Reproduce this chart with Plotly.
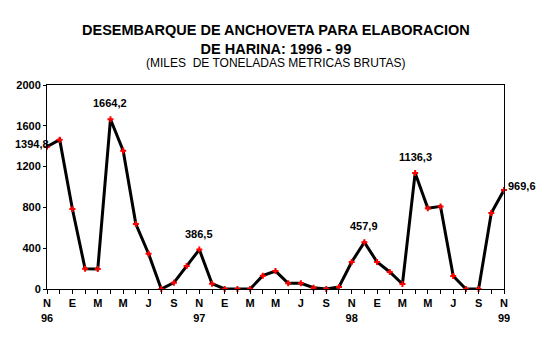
import plotly.graph_objects as go

months = ["Nov96","Dic96","Ene97","Feb97","Mar97","Abr97","May97","Jun97","Jul97","Ago97","Sep97","Oct97",
          "Nov97","Dic97","Ene98","Feb98","Mar98","Abr98","May98","Jun98","Jul98","Ago98","Sep98","Oct98",
          "Nov98","Dic98","Ene99","Feb99","Mar99","Abr99","May99","Jun99","Jul99","Ago99","Sep99","Oct99","Nov99"]
values = [1394.8, 1464, 784, 199, 196, 1664.2, 1356, 637, 346, 0, 62, 225,
          386.5, 52, 0, 0, 0, 131, 176, 56, 56, 13, 0, 20,
          265, 457.9, 265, 167, 49, 1136.3, 791, 810, 127, 0, 0, 745, 969.6]
tick_labels = ["N<br>96","","E","","M","","M","","J","","S","",
               "N<br>97","","E","","M","","M","","J","","S","",
               "N<br>98","","E","","M","","M","","J","","S","","N<br>99"]
y_ticks = [0, 400, 800, 1200, 1600, 2000]
labeled = {0: "1394,8", 5: "1664,2", 12: "386,5", 25: "457,9", 29: "1136,3", 36: "969,6"}
title_lines = ["DESEMBARQUE DE ANCHOVETA PARA ELABORACION", "DE HARINA: 1996 - 99"]
subtitle = "(MILES  DE TONELADAS METRICAS BRUTAS)"

xs = list(range(len(values)))

fig = go.Figure()
fig.add_trace(go.Scatter(
    x=xs, y=values, mode="lines+markers",
    line=dict(color="black", width=3),
    marker=dict(color="red", symbol="cross", size=5, line=dict(width=0)),
    cliponaxis=False, hoverinfo="skip"))

for i, txt in labeled.items():
    if i == 0:
        fig.add_annotation(x=xs[i], y=values[i], text=txt, showarrow=False,
                           xanchor="right", yanchor="bottom", xshift=4, yshift=-5)
    elif i == len(values) - 1:
        fig.add_annotation(x=xs[i], y=values[i], text=txt, showarrow=False,
                           xanchor="left", yanchor="bottom", xshift=2, yshift=-4)
    else:
        fig.add_annotation(x=xs[i], y=values[i], text=txt, showarrow=False,
                           xanchor="center", yanchor="bottom", yshift=8)

fig.update_annotations(font=dict(family="Liberation Sans", size=11, color="black", weight="bold"))

fig.add_annotation(xref="paper", yref="paper", x=0.5, y=1.0, xanchor="center", yanchor="bottom",
                   yshift=27, showarrow=False, borderpad=0,
                   text="<br>".join(title_lines),
                   font=dict(family="Liberation Sans", size=14.5, color="black", weight="bold"))
fig.add_annotation(xref="paper", yref="paper", x=0.5, y=1.0, xanchor="center", yanchor="bottom",
                   yshift=14, showarrow=False, borderpad=0,
                   text=subtitle,
                   font=dict(family="Liberation Sans", size=12, color="black"))

fig.update_layout(
    width=545, height=356,
    margin=dict(l=39, r=49, t=77, b=75, autoexpand=False),
    paper_bgcolor="white", plot_bgcolor="white",
    showlegend=False,
    font=dict(family="Liberation Sans", size=11, color="black"),
    xaxis=dict(range=[0, 36], tickmode="array", tickvals=xs, ticktext=tick_labels,
               ticks="outside", ticklen=4, tickcolor="black", tickwidth=1,
               showgrid=False, zeroline=False, showline=True, linecolor="black", linewidth=1,
               mirror=True, tickangle=0,
               tickfont=dict(family="Liberation Sans", size=11, color="black", weight="bold")),
    yaxis=dict(range=[0, 2000], tickmode="array", tickvals=y_ticks,
               ticks="outside", ticklen=3, tickcolor="black",
               showgrid=False, zeroline=False, showline=True, linecolor="black", linewidth=1,
               mirror=True,
               tickfont=dict(family="Liberation Sans", size=11, color="black", weight="bold")),
)

fig.write_html("out.html")
